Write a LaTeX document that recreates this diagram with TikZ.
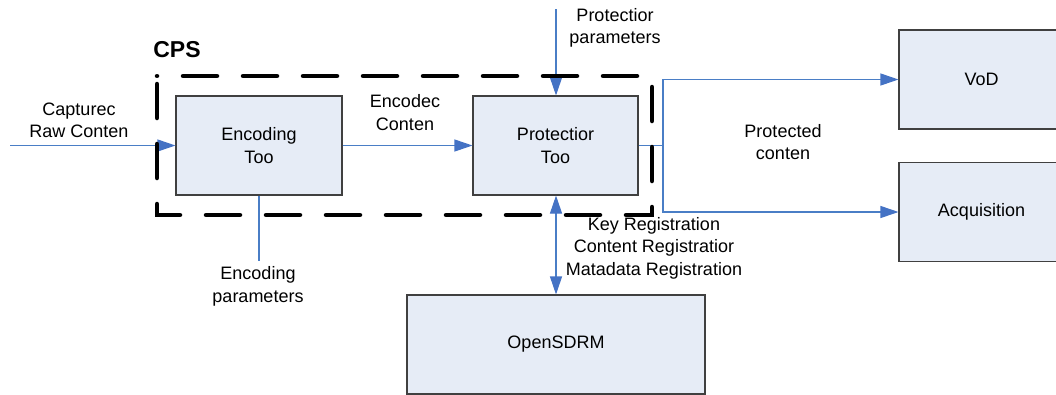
\documentclass[tikz,border=0pt]{standalone}
\usepackage{fontspec}
\setmainfont{Liberation Sans}
\usetikzlibrary{arrows.meta}
\definecolor{boxfill}{HTML}{E6ECF6}
\definecolor{boxline}{HTML}{404040}
\definecolor{flow}{HTML}{4A7EC6}
\definecolor{tipfill}{HTML}{4472C4}
\begin{document}
\begin{tikzpicture}[x=1pt,y=-1pt,
  txt/.style={font=\fontsize{18}{22.5}\selectfont,align=center,inner sep=0pt},
  block/.style={txt,draw=boxline,fill=boxfill,line width=1.1pt,minimum height=99pt},
  flowline/.style={draw=flow,line width=1.1pt},
  tip/.tip={Triangle[length=18pt,width=12pt,color=tipfill]},
  flowarrow/.style={flowline,-tip},
  cpsframe/.style={draw=black,line width=4.5pt,line cap=round,dash pattern=on 34pt off 26pt,dash phase=-8pt}
]
\useasboundingbox (0,0) rectangle (1056,394);
\clip (0,0) rectangle (1056,394);

% processing blocks
\node[block,minimum width=166pt] (enc) at (259,145.5) {Encoding\\Too};
\node[block,minimum width=165pt] (prot) at (555.5,145.5) {Protectior\\Too};
\node[block,minimum width=165pt] (vod) at (981.5,79.5) {VoD};
\node[block,minimum width=165pt] (acq) at (981.5,212) {Acquisition};
\node[block,minimum width=298pt] (sdrm) at (556,344.5) {OpenSDRM};

% labels
\node[txt] (raw) at (79,120.5) {Capturec\\Raw Conten};
\node[txt] (encd) at (405,112.5) {Encodec\\Conten};
\node[txt] (ppar) at (615,28) {Protectior\\parameters};
\node[txt] (epar) at (258,286.5) {Encoding\\parameters};
\node[txt] (pcon) at (783,142) {Protected\\conten};
\node[txt] (reg) at (654,248) {Key Registration\\Content Registratior\\Matadata Registration};
\node[font=\fontsize{23}{26}\selectfont\bfseries,inner sep=0pt] (cps) at (177,50) {CPS};

% connectors
\coordinate (rawin) at (10,145.5);
\coordinate (encparend) at (259,261);
\coordinate (protparstart) at (556,9);
\coordinate (split) at (663,145.5);

\draw[flowarrow] (rawin) -- (enc.west);
\draw[flowarrow] (enc.east) -- (prot.west);
\draw[flowline] (enc.south) -- (encparend);
\draw[flowarrow] (protparstart) -- (prot.north -| protparstart);
\draw[flowline,tip-tip] (prot.south -| protparstart) -- (sdrm.north -| protparstart);
\draw[flowline] (prot.east) -- (split);
\draw[flowarrow] (split) |- (vod.west);
\draw[flowarrow] (split) |- (acq.west);

% CPS boundary
\draw[cpsframe] (157,76) rectangle (652,215);
\end{tikzpicture}
\end{document}
